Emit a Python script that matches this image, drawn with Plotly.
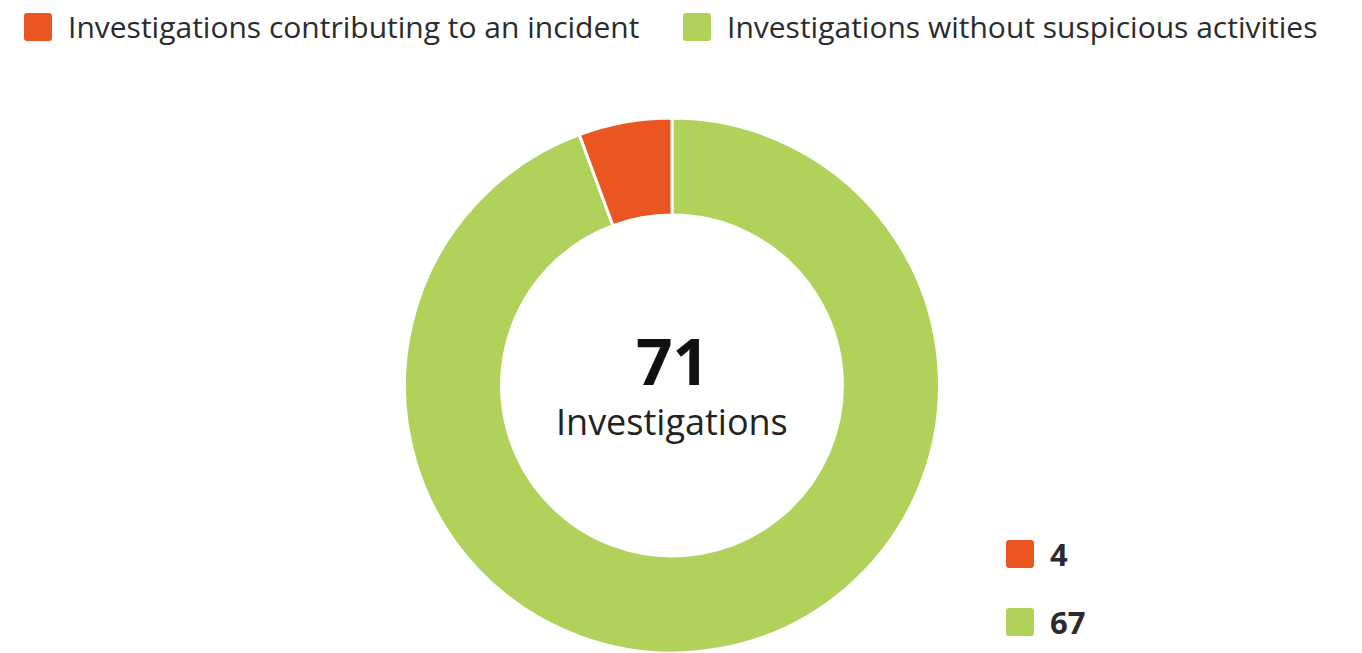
import plotly.graph_objects as go

# ---- data ----
labels = ["Investigations contributing to an incident",
          "Investigations without suspicious activities"]
values = [4, 67]
colors = ["#EA561F", "#B0D25A"]
center_unit = "Investigations"

W, H = 1362, 653
FONT = "'Open Sans', Lato, sans-serif"

# the first category ends at 12 o'clock (drawn clockwise in reversed order)
fig = go.Figure()
fig.add_trace(go.Pie(
    labels=labels[::-1],
    values=values[::-1],
    marker=dict(colors=colors[::-1], line=dict(color="white", width=3)),
    hole=0.637,
    sort=False,
    direction="clockwise",
    rotation=0,
    textinfo="none",
    hoverinfo="label+value",
    showlegend=False,
    domain=dict(x=[0, 1344 / W], y=[0, 535 / H]),
))

def px(x):
    return x / W

def py(y):
    return 1 - y / H

def rounded_rect(x0, y0, x1, y1, r=3):
    X = lambda v: f"{px(v):.5f}"
    Y = lambda v: f"{py(v):.5f}"
    return (f"M {X(x0+r)},{Y(y0)} L {X(x1-r)},{Y(y0)} Q {X(x1)},{Y(y0)} {X(x1)},{Y(y0+r)} "
            f"L {X(x1)},{Y(y1-r)} Q {X(x1)},{Y(y1)} {X(x1-r)},{Y(y1)} "
            f"L {X(x0+r)},{Y(y1)} Q {X(x0)},{Y(y1)} {X(x0)},{Y(y1-r)} "
            f"L {X(x0)},{Y(y0+r)} Q {X(x0)},{Y(y0)} {X(x0+r)},{Y(y0)} Z")

shapes = []
annotations = []

# top legend
top_x = [24, 683]
for i, (lab, col) in enumerate(zip(labels, colors)):
    sx = top_x[i]
    shapes.append(dict(type="path", xref="paper", yref="paper",
                       path=rounded_rect(sx, 13, sx + 28, 41),
                       fillcolor=col, line=dict(width=0)))
    annotations.append(dict(x=px(sx + 42), y=py(27), xref="paper", yref="paper",
                            text=lab, showarrow=False, xanchor="left", yanchor="middle",
                            font=dict(family=FONT, size=30, color="#2b2b2e")))

# bottom-right value legend
val_y = [554, 622]
for i, (v, col) in enumerate(zip(values, colors)):
    cy = val_y[i]
    shapes.append(dict(type="path", xref="paper", yref="paper",
                       path=rounded_rect(1006, cy - 14, 1034, cy + 14),
                       fillcolor=col, line=dict(width=0)))
    annotations.append(dict(x=px(1048), y=py(cy), xref="paper", yref="paper",
                            text=f"<b>{v}</b>", showarrow=False, xanchor="left", yanchor="middle",
                            font=dict(family=FONT, size=31, color="#2b2b2e")))

# center text
annotations.append(dict(x=px(672), y=py(360), xref="paper", yref="paper",
                        text=f"<b>{sum(values)}</b>", showarrow=False,
                        xanchor="center", yanchor="middle",
                        font=dict(family=FONT, size=64, color="#111111")))
annotations.append(dict(x=px(672), y=py(421), xref="paper", yref="paper",
                        text=center_unit, showarrow=False,
                        xanchor="center", yanchor="middle",
                        font=dict(family=FONT, size=36, color="#222222")))

fig.update_layout(
    width=W, height=H,
    margin=dict(l=0, r=0, t=0, b=0),
    paper_bgcolor="white",
    plot_bgcolor="white",
    shapes=shapes,
    annotations=annotations,
    showlegend=False,
)

fig.write_html("out.html", config={"displayModeBar": False},
               post_script="document.body.style.margin='0';document.body.style.overflow='hidden';")
